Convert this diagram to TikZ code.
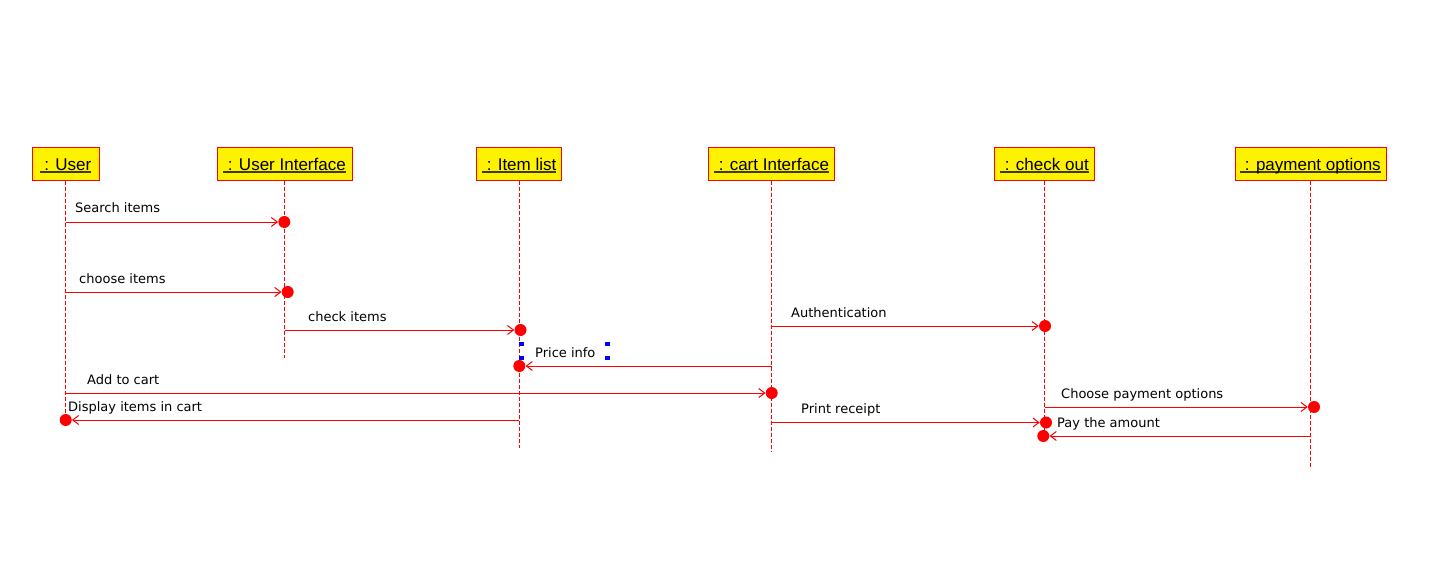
\documentclass[tikz,border=0pt]{standalone}
\usepackage{fontspec}
\setmainfont{DejaVu Sans}
\newfontfamily\boxfont{Liberation Sans}
\usetikzlibrary{arrows.meta}
\definecolor{ulcol}{RGB}{60,60,0}
\newcommand\myul[1]{\setbox0\hbox{#1}\rlap{\textcolor{ulcol}{\rule[-2pt]{\wd0}{1.5pt}}}\box0}
\begin{document}
\begin{tikzpicture}[x=1pt,y=-1pt,
  objbox/.style={draw=red, line width=1pt, fill=yellow, minimum height=32pt, inner sep=0pt,
    text height=17pt, text depth=3pt, font=\boxfont\fontsize{17}{20}\selectfont},
  lifeline/.style={red, line width=1pt, dash pattern=on 4pt off 2pt},
  msg/.style={red, line width=1pt, -{Straight Barb[length=6pt,width=9pt]}},
  actdot/.style={circle, fill=red, minimum size=12pt, inner sep=0pt},
  lbl/.style={anchor=base west, inner sep=0pt, font=\fontsize{13}{15}\selectfont},
  selmark/.style={fill=blue, minimum width=4.5pt, minimum height=4.5pt, inner sep=0pt}]
\useasboundingbox (0,0) rectangle (1438,583);
% objects
\node[objbox, minimum width=67pt]  (u)  at (65.5,164)   {\myul{\ : User}};
\node[objbox, minimum width=135pt] (ui) at (284.5,164)  {\myul{\ : User Interface}};
\node[objbox, minimum width=85pt]  (il) at (519.2,164)  {\myul{\ : Item list}};
\node[objbox, minimum width=126pt] (ci) at (771.5,164)  {\myul{\ : cart Interface}};
\node[objbox, minimum width=100pt] (co) at (1044.5,164) {\myul{\ : check out}};
\node[objbox, minimum width=151pt] (po) at (1310.5,164) {\myul{\ : payment options}};
% lifelines
\draw[lifeline] (u.south)  -- ++(0,240);
\draw[lifeline] (ui.south) -- ++(0,177);
\draw[lifeline] (il.south) -- ++(0,267);
\draw[lifeline] (ci.south) -- ++(0,271);
\draw[lifeline] (co.south) -- ++(0,256);
\draw[lifeline] (po.south) -- ++(0,286);
% activation dots
\node[actdot] (d1)  at (284.3,222)  {};
\node[actdot] (d2)  at (287.7,292)  {};
\node[actdot] (d3)  at (520.5,330)  {};
\node[actdot] (d4)  at (1045,326)   {};
\node[actdot] (d5)  at (519.3,366)  {};
\node[actdot] (d6)  at (771.7,393)  {};
\node[actdot] (d7)  at (65.7,420)   {};
\node[actdot] (d8)  at (1314,407)   {};
\node[actdot] (d9)  at (1046,422.5) {};
\node[actdot] (d10) at (1043.3,436) {};
% messages
\draw[msg] (u.south |- d1)  -- (d1.west);
\draw[msg] (u.south |- d2)  -- (d2.west);
\draw[msg] (ui.south |- d3) -- (d3.west);
\draw[msg] (ci.south |- d4) -- (d4.west);
\draw[msg] (ci.south |- d5) -- (d5.east);
\draw[msg] (u.south |- d6)  -- (d6.west);
\draw[msg] (il.south |- d7) -- (d7.east);
\draw[msg] (co.south |- d8) -- (d8.west);
\draw[msg] (ci.south |- d9) -- (d9.west);
\draw[msg] (po.south |- d10) -- (d10.east);
% labels
\node[lbl] (l1)  at (75,212)   {Search items};
\node[lbl] (l2)  at (79,283)   {choose items};
\node[lbl] (l3)  at (308,321)  {check items};
\node[lbl] (l4)  at (791,317)  {Authentication};
\node[lbl] (l5)  at (535,357)  {Price info};
\node[lbl] (l6)  at (87,384)   {Add to cart};
\node[lbl] (l7)  at (68,411)   {Display items in cart};
\node[lbl] (l8)  at (1061,398) {Choose payment options};
\node[lbl] (l9)  at (801,413)  {Print receipt};
\node[lbl] (l10) at (1057,427) {Pay the amount};
% selection markers
\node[selmark] (s1) at (521.5,344) {};
\node[selmark] (s2) at (521.5,358) {};
\node[selmark] (s3) at (607.5,344) {};
\node[selmark] (s4) at (607.5,358) {};
\end{tikzpicture}
\end{document}
